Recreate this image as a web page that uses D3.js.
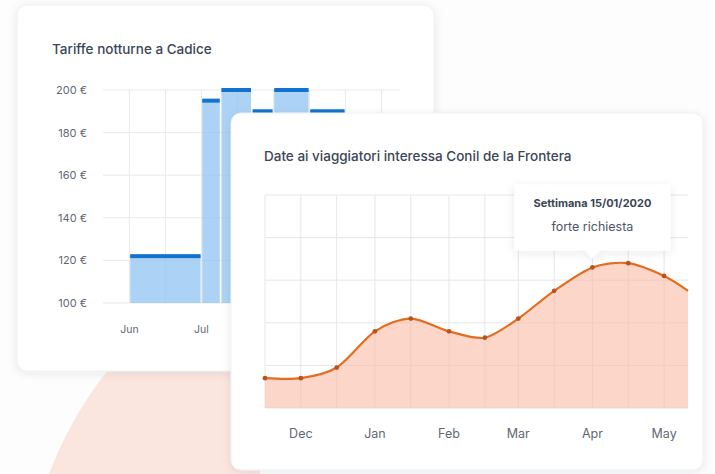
<!DOCTYPE html>
<html>
<head>
<meta charset="utf-8">
<script src="https://cdn.jsdelivr.net/npm/d3@7"></script>
<style>
  body { margin: 0; background: #fdfdfd; font-family: Inter, "Noto Sans", sans-serif; }
  svg { display: block; }
</style>
</head>
<body>
<div id="wrapper"></div>
<script>
// --- rates card (Cadice) ---
const rateStarts = ["2020-06-01", "2020-07-01", "2020-07-09", "2020-07-22", "2020-07-31", "2020-08-15"];
const rateEnds = ["2020-07-01", "2020-07-09", "2020-07-22", "2020-07-31", "2020-08-15", "2020-08-30"];
const rateValues = [122, 195, 200, 190, 200, 190];
const rateTicks = [100, 120, 140, 160, 180, 200];
const rateMonths = ["Jun", "Jul", "Aug", "Sep"];

// --- interest card (Conil) ---
const weekDates = ["2019-11-16", "2019-12-01", "2019-12-16", "2020-01-01", "2020-01-16", "2020-02-01",
  "2020-02-16", "2020-03-01", "2020-03-16", "2020-04-01", "2020-04-16", "2020-05-01", "2020-05-11"];
const interest = [14, 14, 19, 36, 42, 36, 33, 42, 55, 66, 68, 62, 55];
const interestTicks = [0, 20, 40, 60, 80, 100];
const interestMonths = ["Dec", "Jan", "Feb", "Mar", "Apr", "May"];
const tooltipTitle = "Settimana 15/01/2020";
const tooltipText = "forte richiesta";
const tooltipIndex = 9;

const parse = d3.timeParse("%Y-%m-%d");

const width = 715;
const height = 474;

const svg = d3.select("#wrapper")
  .append("svg")
  .attr("width", width)
  .attr("height", height);

const defs = svg.append("defs");
const shadow = defs.append("filter").attr("id", "shadow")
  .attr("x", "-10%").attr("y", "-10%").attr("width", "120%").attr("height", "120%");
shadow.append("feDropShadow")
  .attr("dx", 0).attr("dy", 2).attr("stdDeviation", 5)
  .attr("flood-color", "#1b2a3a").attr("flood-opacity", 0.09);

// pink blob behind the cards
svg.append("path")
  .attr("d", "M108,370 L260,370 L260,474 L49,474 C62,440 80,405 108,370 Z")
  .attr("fill", "#fbe6df");

// ================= card 1 =================
const card1 = svg.append("g");
card1.append("rect")
  .attr("x", 17).attr("y", 5).attr("width", 417).attr("height", 366)
  .attr("rx", 10)
  .attr("fill", "#fff")
  .attr("stroke", "#eef0f3")
  .attr("filter", "url(#shadow)");

card1.append("text")
  .attr("x", 52).attr("y", 54)
  .attr("font-size", 13.5).attr("font-weight", 500)
  .attr("fill", "#3b4656")
  .text("Tariffe notturne a Cadice");

const xRate = d3.scaleTime()
  .domain([new Date(2020, 4, 21), new Date(2020, 8, 22)])
  .range([103, 103 + 124 * 2.4]);
const yRate = d3.scaleLinear().domain([100, 200]).range([303, 90]);

// grid
const rateGrid = card1.append("g").attr("stroke", "#e8e9ec").attr("stroke-width", 1);
rateGrid.selectAll("line.h").data(rateTicks).join("line")
  .attr("x1", xRate.range()[0]).attr("x2", xRate.range()[1])
  .attr("y1", d => yRate(d)).attr("y2", d => yRate(d));
const vGridDates = d3.range(8).map(i => d3.timeDay.offset(new Date(2020, 5, 1), 15 * i));
rateGrid.selectAll("line.v").data(vGridDates).join("line")
  .attr("x1", d => xRate(d)).attr("x2", d => xRate(d))
  .attr("y1", yRate(200)).attr("y2", yRate(100));

const rates = rateValues.map((v, i) => ({ x0: parse(rateStarts[i]), x1: parse(rateEnds[i]), v }));

card1.append("g").selectAll("rect").data(rates).join("rect")
  .attr("x", d => xRate(d.x0) + 0.8)
  .attr("width", d => xRate(d.x1) - xRate(d.x0) - 1.6)
  .attr("y", d => yRate(d.v))
  .attr("height", d => yRate(100) - yRate(d.v))
  .attr("fill", "#8cc2f2")
  .attr("fill-opacity", 0.72);

card1.append("g").selectAll("rect").data(rates).join("rect")
  .attr("x", d => xRate(d.x0) + 0.8)
  .attr("width", d => xRate(d.x1) - xRate(d.x0) - 1.6)
  .attr("y", d => yRate(d.v) - 2)
  .attr("height", 4)
  .attr("fill", "#1173cf");

card1.append("g").selectAll("text").data(rateTicks).join("text")
  .attr("x", 87).attr("y", d => yRate(d) + 4)
  .attr("text-anchor", "end")
  .attr("font-size", 11)
  .attr("fill", "#5f6875")
  .text(d => `${d} €`);

card1.append("g").selectAll("text").data(rateMonths).join("text")
  .attr("x", (d, i) => xRate(new Date(2020, 5 + i, 1)))
  .attr("y", 333)
  .attr("text-anchor", "middle")
  .attr("font-size", 10.5)
  .attr("fill", "#5f6875")
  .text(d => d);

// ================= card 2 =================
const card2 = svg.append("g");
card2.append("rect")
  .attr("x", 231).attr("y", 113).attr("width", 472).attr("height", 357)
  .attr("rx", 10)
  .attr("fill", "#fff")
  .attr("stroke", "#eef0f3")
  .attr("filter", "url(#shadow)");

card2.append("text")
  .attr("x", 264).attr("y", 161)
  .attr("font-size", 13.5).attr("font-weight", 500)
  .attr("fill", "#3b4656")
  .text("Date ai viaggiatori interessa Conil de la Frontera");

const weeks = interest.map((v, i) => ({ date: parse(weekDates[i]), v }));

const xInt = d3.scaleTime()
  .domain(d3.extent(weeks, d => d.date))
  .range([265, 688]);
const yInt = d3.scaleLinear().domain([0, 100]).range([408, 195]);

const intGrid = card2.append("g").attr("stroke", "#e6e6ea").attr("stroke-width", 1);
intGrid.selectAll("line.h").data(interestTicks).join("line")
  .attr("x1", xInt.range()[0]).attr("x2", xInt.range()[1])
  .attr("y1", d => yInt(d)).attr("y2", d => yInt(d));
intGrid.selectAll("line.v").data(weeks.slice(0, -1)).join("line")
  .attr("x1", d => xInt(d.date)).attr("x2", d => xInt(d.date))
  .attr("y1", yInt(100)).attr("y2", yInt(0));

const area = d3.area()
  .x(d => xInt(d.date))
  .y0(yInt(0))
  .y1(d => yInt(d.v))
  .curve(d3.curveCardinal.tension(0.15));
const line = area.lineY1();

card2.append("path")
  .datum(weeks)
  .attr("d", area)
  .attr("fill", "#f9b79c")
  .attr("fill-opacity", 0.55);

card2.append("path")
  .datum(weeks)
  .attr("d", line)
  .attr("fill", "none")
  .attr("stroke", "#e56c1e")
  .attr("stroke-width", 2.2);

card2.append("g").selectAll("circle").data(weeks.slice(0, -1)).join("circle")
  .attr("cx", d => xInt(d.date))
  .attr("cy", d => yInt(d.v))
  .attr("r", 2.4)
  .attr("fill", "#b9541b");

card2.append("g").selectAll("text").data(interestMonths).join("text")
  .attr("x", (d, i) => xInt(new Date(2019, 11 + i, 1)))
  .attr("y", 438)
  .attr("text-anchor", "middle")
  .attr("font-size", 12.5)
  .attr("fill", "#5f6875")
  .text(d => d);

// tooltip
const tip = weeks[tooltipIndex];
const tipX = xInt(tip.date);
const tipY = yInt(tip.v) - 9;
const tipG = card2.append("g").attr("filter", "url(#shadow)");
tipG.append("path")
  .attr("d", `M${tipX - 78},${tipY - 74} h156 v66 h-70 l-8,8 l-8,-8 h-70 Z`)
  .attr("fill", "#fff");
card2.append("text")
  .attr("x", tipX).attr("y", tipY - 51)
  .attr("text-anchor", "middle")
  .attr("font-size", 11).attr("font-weight", 700)
  .attr("fill", "#3b4656")
  .text(tooltipTitle);
card2.append("text")
  .attr("x", tipX).attr("y", tipY - 27)
  .attr("text-anchor", "middle")
  .attr("font-size", 12.5)
  .attr("fill", "#4d5766")
  .text(tooltipText);
</script>
</body>
</html>
